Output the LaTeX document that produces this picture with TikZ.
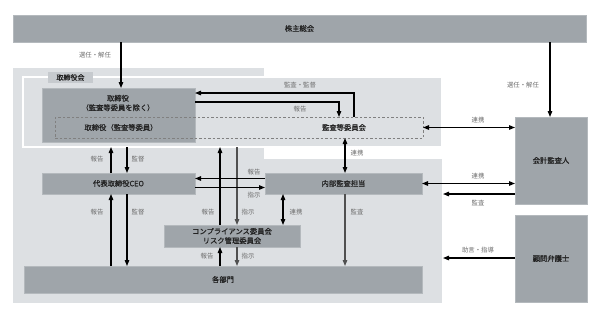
\documentclass[tikz,border=0pt]{standalone}
\usepackage{fontspec}
\setmainfont{Noto Sans CJK JP}
\newfontfamily\nodefont[FakeBold=0.8]{Noto Sans CJK JP}
\usetikzlibrary{arrows.meta}
\definecolor{boxgray}{HTML}{9FA5AA}
\definecolor{boxedge}{HTML}{B4B9BD}
\definecolor{bggray}{HTML}{DDE0E3}
\definecolor{tabgray}{HTML}{C6CACE}
\definecolor{labgray}{HTML}{6E6E6E}
\definecolor{txtdark}{HTML}{222222}
\definecolor{linegray}{HTML}{505050}
\tikzset{
  box/.style={fill=boxgray, draw=boxedge, line width=0.6pt, outer sep=0pt, inner sep=0pt, anchor=north west,
    font=\nodefont\fontsize{7.3}{9}\selectfont, text=txtdark, align=center},
  txt/.style={font=\nodefont\fontsize{7.3}{9.5}\selectfont, text=txtdark, align=center, inner sep=0pt},
  lab/.style={font=\fontsize{6.4}{7}\selectfont, text=labgray, inner sep=0pt},
  arr/.style={line width=1.2pt, draw=black, -{Triangle[length=6pt,width=4.5pt]}},
  darr/.style={line width=1.2pt, draw=black, {Triangle[length=6pt,width=4.5pt]}-{Triangle[length=6pt,width=4.5pt]}},
  garr/.style={arr, draw=linegray},
}
\begin{document}
\begin{tikzpicture}[x=1pt, y=-1pt]
\useasboundingbox (0,0) rectangle (600,316);
% backgrounds
\fill[bggray] (13,68) rectangle (264,303);
\fill[bggray] (264,159) rectangle (442,303);
\node[box, fill=bggray, draw=white, line width=1.5pt, minimum width=419pt, minimum height=70pt] (frame) at (23,77) {};
\node[box, fill=tabgray, draw=none, minimum width=45pt, minimum height=11pt, font=\nodefont\fontsize{7}{8}\selectfont] (tab) at (48,72) {取締役会};
% boxes
\node[box, minimum width=573pt, minimum height=27pt] (soukai) at (13,15) {株主総会};
\node[box, minimum width=153pt, minimum height=54pt] (dark) at (42,88) {};
\node[txt] (darktxt) at (118,103) {取締役\\（監査等委員を除く）};
\node[box, fill=none, draw=gray, dashed, dash pattern=on 2.5pt off 2pt, line width=0.7pt, minimum width=368pt, minimum height=21pt] (dashbox) at (55,117) {};
\node[txt] (dtxt1) at (121,127.5) {取締役（監査等委員）};
\node[txt] (dtxt2) at (344,127.5) {監査等委員会};
\node[box, minimum width=72pt, minimum height=87pt] (kaikei) at (515,117) {会計監査人};
\node[box, minimum width=72pt, minimum height=87pt] (komon) at (515,215) {顧問弁護士};
\node[box, minimum width=153pt, minimum height=21pt] (ceo) at (42,173) {代表取締役CEO};
\node[box, minimum width=157pt, minimum height=21pt] (naibu) at (265,173) {内部監査担当};
\node[box, minimum width=136pt, minimum height=22pt, font=\nodefont\fontsize{7.3}{9.3}\selectfont] (comp) at (164,225) {コンプライアンス委員会\\リスク管理委員会};
\node[box, minimum width=398pt, minimum height=27pt] (bumon) at (24,266) {各部門};
% helper coordinates
\coordinate (c121) at (121,0);
\coordinate (c550) at (550,0);
\coordinate (c354) at (354,0);
\coordinate (c339) at (339,0);
\coordinate (c111) at (111,0);
\coordinate (c127) at (127,0);
\coordinate (c220) at (220,0);
\coordinate (c237) at (237,0);
\coordinate (c283) at (283,0);
\coordinate (c345) at (345,0);
\coordinate (c443) at (443,0);
\coordinate (r93) at (0,93);
\coordinate (r102) at (0,102);
\coordinate (r178) at (0,178.5);
\coordinate (r187) at (0,187.5);
\coordinate (r194) at (0,194);
\coordinate (r258) at (0,258);
% connectors
\draw[arr] (soukai.south -| c121) -- (dark.north -| c121);
\draw[arr] (soukai.south -| c550) -- (kaikei.north -| c550);
\draw[arr] (dashbox.north -| c354) -- (c354 |- r93) -- (dark.east |- r93);
\draw[arr] (dark.east |- r102) -- (c339 |- r102) -- (dashbox.north -| c339);
\draw[darr] (dashbox.east) -- (kaikei.west |- dashbox.east);
\draw[arr] (ceo.north -| c111) -- (frame.south -| c111);
\draw[arr] (frame.south -| c127) -- (ceo.north -| c127);
\draw[arr] (comp.north -| c220) -- (frame.south -| c220);
\draw[garr] (frame.south -| c237) -- (comp.north -| c237);
\draw[darr] (dashbox.south -| c345) -- (naibu.north -| c345);
\draw[arr] (naibu.west |- r178) -- (ceo.east |- r178);
\draw[arr] (ceo.east |- r187) -- (naibu.west |- r187);
\draw[darr] (naibu.east) -- (kaikei.west |- naibu.east);
\draw[arr] (kaikei.west |- r194) -- (c443 |- r194);
\draw[arr] (komon.west |- r258) -- (c443 |- r258);
\draw[arr] (bumon.north -| c111) -- (ceo.south -| c111);
\draw[arr] (ceo.south -| c127) -- (bumon.north -| c127);
\draw[darr] (naibu.south -| c283) -- (comp.north -| c283);
\draw[garr] (naibu.south -| c345) -- (bumon.north -| c345);
\draw[arr] (bumon.north -| c220) -- (comp.south -| c220);
\draw[garr] (comp.south -| c237) -- (bumon.north -| c237);
% labels
\node[lab] (l1) at (95,55) {選任・解任};
\node[lab] (l2) at (523,85) {選任・解任};
\node[lab] (l3) at (300,85) {監査・監督};
\node[lab] (l4) at (300,109) {報告};
\node[lab] (l5) at (478,120) {連携};
\node[lab] (l6) at (97,159) {報告};
\node[lab] (l7) at (138,159) {監督};
\node[lab] (l8) at (357,153) {連携};
\node[lab] (l9) at (254,172) {報告};
\node[lab] (l10) at (254,195) {指示};
\node[lab] (l11) at (478,176) {連携};
\node[lab] (l12) at (478,203) {監査};
\node[lab] (l13) at (97,212) {報告};
\node[lab] (l14) at (138,212) {監督};
\node[lab] (l15) at (208,212) {報告};
\node[lab] (l16) at (248,212) {指示};
\node[lab] (l17) at (296,212) {連携};
\node[lab] (l18) at (357,212) {監査};
\node[lab] (l19) at (207,256) {報告};
\node[lab] (l20) at (248,256) {指示};
\node[lab] (l21) at (478,250) {助言・指導};
\end{tikzpicture}
\end{document}
